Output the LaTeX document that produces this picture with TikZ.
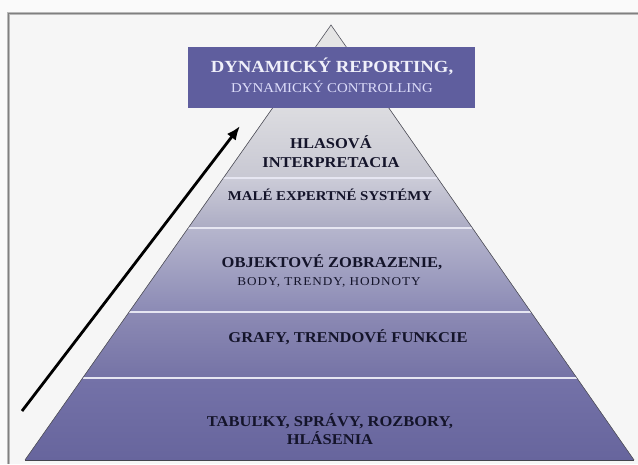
\documentclass[tikz,border=0pt]{standalone}
\usepackage{fontspec}
\setmainfont{Liberation Serif}
\newfontfamily\widefont[FakeStretch=1.1]{Liberation Serif}
\newfontfamily\spacedfont[FakeStretch=1.1,LetterSpace=8]{Liberation Serif}
\usetikzlibrary{calc,arrows.meta}

\definecolor{bannerblue}{HTML}{5F5E9E}
\definecolor{bannerink}{HTML}{F0F0FA}
\definecolor{labelink}{HTML}{14142A}
\definecolor{edgegray}{HTML}{55555F}
\definecolor{seplight}{HTML}{E6E6F2}
\definecolor{bandAtop}{HTML}{DCDCE0}
\definecolor{bandAbot}{HTML}{C8C8D3}
\definecolor{bandBtop}{HTML}{CCCCD8}
\definecolor{bandBbot}{HTML}{ACACC4}
\definecolor{bandCtop}{HTML}{B6B6CD}
\definecolor{bandCbot}{HTML}{8B8AB5}
\definecolor{bandDtop}{HTML}{8C8AB4}
\definecolor{bandDbot}{HTML}{7573A6}
\definecolor{bandEtop}{HTML}{7472A8}
\definecolor{bandEbot}{HTML}{67659D}

\begin{document}
\begin{tikzpicture}[x=1pt,y=-1pt,
  lbl/.style={font=\widefont\bfseries\fontsize{15}{19}\selectfont,text=labelink,align=center,inner sep=0pt},
  sublbl/.style={font=\spacedfont\fontsize{12}{13}\selectfont,text=labelink,inner sep=0pt},
  sepline/.style={draw=seplight,line width=1.4pt},
  edge/.style={draw=edgegray,line width=0.6pt}]
  \useasboundingbox (0,0) rectangle (638,464);
  \fill[white!98!black] (0,0) rectangle (638,464);
  \fill[white!96.5!black] (8,13) rectangle (638,464);
  \draw[gray!55,line width=2.2pt] (8.5,464) |- (638,13.5);
  \draw[gray,line width=0.8pt] (8,464) |- (638,13);

  % pyramid corners and the levels of the bands
  \coordinate (apex) at (331,25);
  \coordinate (bl) at (25,460);
  \coordinate (br) at (634,460);
  \foreach \yy/\nm in {108/a,178/b,228/c,312/d,378/e,460/f} {
    \coordinate (l\nm) at ($(apex)!{(\yy-25)/435}!(bl)$);
    \coordinate (r\nm) at ($(apex)!{(\yy-25)/435}!(br)$);
  }

  \fill[fill=white!90!black] (apex) -- (la) -- (ra) -- cycle;
  \fill[top color=bandAtop,bottom color=bandAbot] (la) -- (ra) -- (rb) -- (lb) -- cycle;
  \fill[top color=bandBtop,bottom color=bandBbot] (lb) -- (rb) -- (rc) -- (lc) -- cycle;
  \fill[top color=bandCtop,bottom color=bandCbot] (lc) -- (rc) -- (rd) -- (ld) -- cycle;
  \fill[top color=bandDtop,bottom color=bandDbot] (ld) -- (rd) -- (re) -- (le) -- cycle;
  \fill[top color=bandEtop,bottom color=bandEbot] (le) -- (re) -- (rf) -- (lf) -- cycle;

  \draw[sepline] (lb) -- (rb);
  \draw[sepline] (lc) -- (rc);
  \draw[sepline] (ld) -- (rd);
  \draw[sepline] (le) -- (re);
  \draw[edge] (lf) -- (apex) -- (rf);
  \draw[edgegray!80!black,line width=1pt] (lf) -- (rf);

  \node[fill=bannerblue,minimum width=287pt,minimum height=61pt,inner sep=0pt] (banner) at (331.5,77.5) {};
  \node[text=bannerink,font=\widefont\bfseries\fontsize{17}{20}\selectfont,inner sep=0pt] (reporting) at (332,67) {DYNAMICKÝ REPORTING,};
  \node[text=bannerink!92!blue,font=\widefont\fontsize{13.5}{15}\selectfont,inner sep=0pt] (controlling) at (332,87) {DYNAMICKÝ CONTROLLING};

  \node[lbl] (hlas) at (331,152) {HLASOVÁ\\INTERPRETACIA};
  \node[lbl,font=\widefont\bfseries\fontsize{13.5}{15}\selectfont] (expert) at (330,195) {MALÉ EXPERTNÉ SYSTÉMY};
  \node[lbl] (objekt) at (332,262) {OBJEKTOVÉ ZOBRAZENIE,};
  \node[sublbl] (body) at (329,282) {BODY, TRENDY, HODNOTY};
  \node[lbl] (grafy) at (348,337) {GRAFY, TRENDOVÉ FUNKCIE};
  \node[lbl,font=\widefont\bfseries\fontsize{15}{18}\selectfont] (tabulky) at (330,429) {TABUĽKY, SPRÁVY, ROZBORY,\\HLÁSENIA};

  \coordinate (arrfrom) at (22,411);
  \coordinate (arrto) at (240,126);
  \draw[line width=2.8pt,-{Latex[length=14pt,width=11pt]}] (arrfrom) -- (arrto);
\end{tikzpicture}
\end{document}
